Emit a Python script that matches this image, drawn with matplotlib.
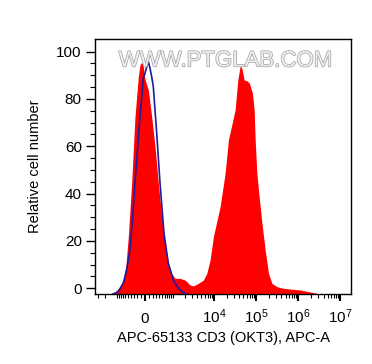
import numpy as np
import matplotlib
matplotlib.use('Agg')
import matplotlib.pyplot as plt
import matplotlib.patheffects as pe
from matplotlib.transforms import blended_transform_factory

plt.rcParams['font.family'] = ['Liberation Sans', 'DejaVu Sans']
plt.rcParams['mathtext.default'] = 'regular'

# CD3 stained sample (red filled histogram), fluorescence vs relative count
red_x = [-1435, -1072, -840, -680, -566, -478, -363, -263, -171, -127, -83, -43,
         0, 83, 171, 263, 363, 478, 606, 754, 933, 1137, 1520, 2018, 2668, 3204,
         4224, 5563, 6708, 8040, 9635, 13917, 18304, 21938, 31670, 36718, 41680,
         45740, 51890, 60170, 69400, 81800, 89790, 94830, 104070, 113630, 136940,
         164130, 196700, 236930, 311580, 447340, 645920, 1118000, 2280000, 3350000]
red_y = [-2.4, -1.1, 0.5, 3.5, 9.8, 21.7, 44.5, 72.4, 89.3, 94.4, 95.5, 93.7,
         88.3, 83.8, 72.5, 59.8, 44.4, 30.3, 19.0, 10.6, 6.3, 4.2, 4.2, 3.5, 1.4, 1.0,
         2.1, 3.5, 6.3, 12.0, 21.8, 34.5, 48.6, 62.7, 75.4, 88.0, 94.0,
         93.0, 88.0, 87.7, 86.6, 82.4, 75.4, 62.7, 48.6, 41.5, 27.6,
         16.2, 6.3, 2.1, 0.7, 0.0, -0.3, -0.7, -1.8, -2.4]

# isotype control (blue line)
blue_x = [-1278, -950, -680, -538, -419, -337, -263, -193, -127, -75, -43, 0, 25,
          83, 127, 171, 215, 313, 419, 566, 754, 1028, 1316, 1675, 2220]
blue_y = [-2.4, -1.6, 2.2, 7.7, 16.2, 28.9, 44.5, 58.5, 72.4, 81.7, 88.9, 90.7, 92.5,
          95.8, 93.0, 89.4, 85.2, 65.5, 44.4, 23.2, 10.6, 3.5, 0.5, -1.4, -2.4]

x_major = [0, 1e4, 1e5, 1e6, 1e7]
x_major_labels = ['0', '$10^4$', '$10^5$', '$10^6$', '$10^7$']
y_major = [0, 20, 40, 60, 80, 100]

# biexponential-like axis (arcsinh)
C = 456.0


def fwd(v):
    return np.arcsinh(np.asarray(v, dtype=float) / C) / np.log(10)


def inv(u):
    return C * np.sinh(np.asarray(u, dtype=float) * np.log(10))


fig = plt.figure(figsize=(3.72, 3.64), dpi=100)
ax = fig.add_axes([0.2554, 0.1923, 0.6882, 0.6997])
ax.set_xscale('function', functions=(fwd, inv))
ax.set_xlim(-3500, 1.8e7)
ax.set_ylim(-2.4, 105.2)

ax.fill_between(red_x, red_y, -2.4, color='#ff0000', linewidth=0, zorder=2)
ax.plot(blue_x, blue_y, color='#1c1ca0', linewidth=1.2, zorder=3)

# axis ticks
minor = [-3000, -2000, -1000] + [-k * 100 for k in range(9, 0, -1)] + [k * 100 for k in range(1, 10)]
for e in range(3, 7):
    minor += [k * 10 ** e for k in range(1, 10) if not (k == 1 and e > 3)]
ax.set_xticks(x_major)
ax.set_xticklabels([])
ax.set_xticks(minor, minor=True)
ax.set_yticks(y_major)
ax.set_yticks(np.arange(0, 101, 5), minor=True)

ax.tick_params(axis='x', which='major', direction='out', length=5, width=1.5)
ax.tick_params(axis='x', which='minor', direction='out', length=3, width=0.8)
ax.tick_params(axis='y', which='major', direction='out', length=6.5, width=1.0,
               labelsize=11, pad=3)
ax.tick_params(axis='y', which='minor', direction='out', length=3.6, width=0.8)

# x tick labels on a common baseline
trans = blended_transform_factory(ax.transData, ax.transAxes)
for xv, lab in zip(x_major, x_major_labels):
    ax.text(xv, -0.113, lab, transform=trans, ha='center', va='baseline',
            fontsize=11, clip_on=False)

for s in ax.spines.values():
    s.set_linewidth(1.0)

ax.set_xlabel('APC-65133 CD3 (OKT3), APC-A', fontsize=10.5)
ax.xaxis.set_label_coords(0.5, -0.145)
ax.set_ylabel('Relative cell number', fontsize=10.5)
ax.yaxis.set_label_coords(-0.209, 0.5)

# watermark
ax.text(0.51, 0.915, 'WWW.PTGLAB.COM', transform=ax.transAxes, ha='center', va='center',
        fontsize=16, color='#eeeeee', zorder=5,
        path_effects=[pe.withStroke(linewidth=1.0, foreground='#a0a0a0')])

fig.savefig('out.png', dpi=100)
